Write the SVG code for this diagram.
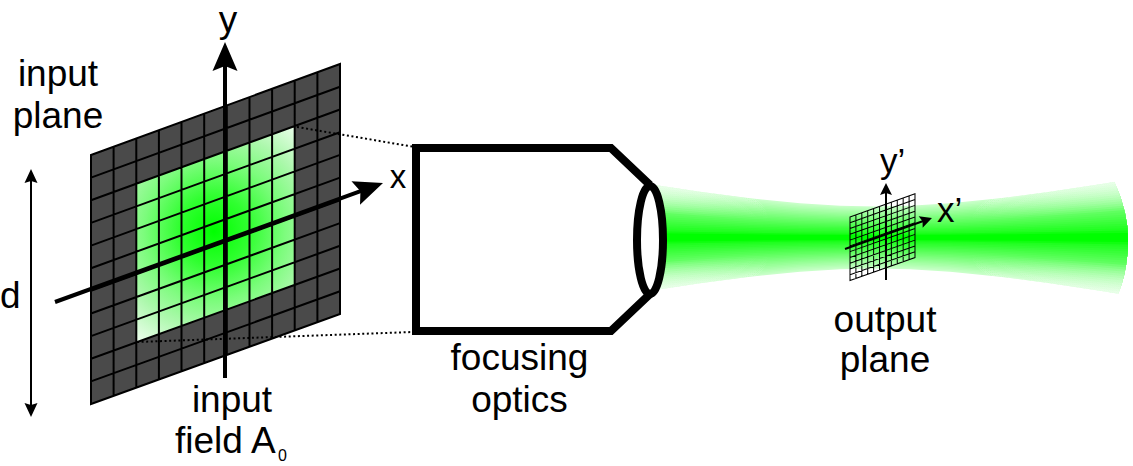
<svg xmlns="http://www.w3.org/2000/svg" xmlns:xlink="http://www.w3.org/1999/xlink" width="1133" height="466" viewBox="0 0 1133 466">
<style>
text{font-family:"Liberation Sans",Arial,sans-serif;font-size:37px;fill:#000;text-anchor:middle}
.start{text-anchor:start}
.axis{fill:none;stroke:#000;stroke-width:4}
.thin{fill:none;stroke:#000;stroke-width:2}
.dots{fill:none;stroke:#000;stroke-width:2;stroke-dasharray:2 2.6}
.opt{fill:none;stroke:#000;stroke-width:8;stroke-miterlimit:6}
</style>
<defs>
<radialGradient id="field" gradientUnits="userSpaceOnUse" cx="214" cy="231" r="140">
<stop offset="0" stop-color="#00ff00"/>
<stop offset=".25" stop-color="#30ff30"/>
<stop offset=".5" stop-color="#7cfc7c"/>
<stop offset=".7" stop-color="#acf8ac"/>
<stop offset="1" stop-color="#f8fff8"/>
</radialGradient>
<linearGradient id="fade" gradientUnits="userSpaceOnUse" x1="655" y1="0" x2="1130" y2="0">
<stop offset="0" stop-color="#fff" stop-opacity=".07"/>
<stop offset=".25" stop-color="#fff" stop-opacity="0"/>
<stop offset=".65" stop-color="#fff" stop-opacity="0"/>
<stop offset="1" stop-color="#fff" stop-opacity=".07"/>
</linearGradient>
<marker id="headBig" markerUnits="userSpaceOnUse" viewBox="-20 -14 32 28" refX="0" refY="0" markerWidth="32" markerHeight="28" orient="auto"><path d="M10 0L-19 12.5L-14 0L-19-12.5Z"/></marker>
<marker id="headMid" markerUnits="userSpaceOnUse" viewBox="-11 -8 16 16" refX="0" refY="0" markerWidth="16" markerHeight="16" orient="auto-start-reverse"><path d="M4 0L-10 6.5L-8 0L-10-6.5Z"/></marker>
<marker id="headSmall" markerUnits="userSpaceOnUse" viewBox="-9 -7 14 14" refX="0" refY="0" markerWidth="14" markerHeight="14" orient="auto"><path d="M4 0L-8 6L-6 0L-8-6Z"/></marker>
<path id="grid" fill="none" stroke="#000" d="M91 155L340 64V314L91 404Z
M113.6 146.7V395.8M136.3 138.5V387.6M158.9 130.2V379.5M181.5 121.9V371.3M204.2 113.6V363.1M226.8 105.4V354.9M249.5 97.1V346.7M272.1 88.8V338.6M294.7 80.6V330.4M317.4 72.3V322.2
M91 177.6L340 86.7M91 200.3L340 109.5M91 222.9L340 132.2M91 245.6L340 154.9M91 268.2L340 177.6M91 290.8L340 200.4M91 313.5L340 223.1M91 336.1L340 245.8M91 358.8L340 268.5M91 381.4L340 291.3"/>
<path id="b" d="M645-54L655-52.4L700-45.7L750-39.2L800-34.2L840-31.7L875-31L910-31.7L950-34.2L1000-39.2L1050-45.7L1100-53.2L1130-58V58L1100 53.2L1050 45.7L1000 39.2L950 34.2L910 31.7L875 31L840 31.7L800 34.2L750 39.2L700 45.7L655 52.4L645 54Z"/>
<clipPath id="beamEnd"><path d="M640 120H1100L1115 183Q1128 212 1128 240Q1128 270 1118 295L1100 360H640Z"/></clipPath>
</defs>
<rect width="1133" height="466" fill="#fff"/>

<g id="beam" clip-path="url(#beamEnd)">
<g transform="translate(0 237.5)">
<use href="#b" fill="#c8ffc8"/>
<use href="#b" fill="url(#fade)"/>
<use href="#b" fill="#c0ffc0" transform="scale(1 .96)"/>
<use href="#b" fill="url(#fade)"/>
<use href="#b" fill="#b8ffb8" transform="scale(1 .92)"/>
<use href="#b" fill="url(#fade)"/>
<use href="#b" fill="#b0ffb0" transform="scale(1 .88)"/>
<use href="#b" fill="url(#fade)"/>
<use href="#b" fill="#a8ffa8" transform="scale(1 .84)"/>
<use href="#b" fill="url(#fade)"/>
<use href="#b" fill="#a0ffa0" transform="scale(1 .8)"/>
<use href="#b" fill="url(#fade)"/>
<use href="#b" fill="#98ff98" transform="scale(1 .76)"/>
<use href="#b" fill="url(#fade)"/>
<use href="#b" fill="#90ff90" transform="scale(1 .72)"/>
<use href="#b" fill="url(#fade)"/>
<use href="#b" fill="#88ff88" transform="scale(1 .68)"/>
<use href="#b" fill="url(#fade)"/>
<use href="#b" fill="#80ff80" transform="scale(1 .64)"/>
<use href="#b" fill="url(#fade)"/>
<use href="#b" fill="#78ff78" transform="scale(1 .6)"/>
<use href="#b" fill="url(#fade)"/>
<use href="#b" fill="#70ff70" transform="scale(1 .56)"/>
<use href="#b" fill="url(#fade)"/>
<use href="#b" fill="#68ff68" transform="scale(1 .52)"/>
<use href="#b" fill="url(#fade)"/>
<use href="#b" fill="#60ff60" transform="scale(1 .48)"/>
<use href="#b" fill="#58ff58" transform="scale(1 .44)"/>
<use href="#b" fill="#50ff50" transform="scale(1 .4)"/>
<use href="#b" fill="#48ff48" transform="scale(1 .36)"/>
<use href="#b" fill="#40ff40" transform="scale(1 .32)"/>
<use href="#b" fill="#38ff38" transform="scale(1 .28)"/>
<use href="#b" fill="#30ff30" transform="scale(1 .24)"/>
<use href="#b" fill="#28ff28" transform="scale(1 .2)"/>
<use href="#b" fill="#20ff20" transform="scale(1 .16)"/>
<use href="#b" fill="#10ff10" transform="scale(1 .12)"/>
<use href="#b" fill="#00ff00" transform="scale(1 .08)"/>
</g>
</g>

<g id="input-plane">
<polygon points="91,155 340,64 340,314 91,404" fill="#4a4a4a"/>
<polygon points="136.3,183.8 294.7,126 294.7,285 136.3,342.4" fill="url(#field)"/>
<use href="#grid" stroke-width="2"/>
<text x="58" y="86">input</text>
<text x="58" y="127.5">plane</text>
</g>

<g id="focusing-optics">
<path class="opt" d="M650 185L611 148H416V331H611L650 294"/>
<ellipse class="opt" cx="650" cy="240" rx="13" ry="54" style="fill:#fff"/>
<text x="519.5" y="370">focusing</text>
<text x="519.5" y="412">optics</text>
</g>

<g id="output-plane">
<use href="#grid" stroke-width="3.9" transform="translate(850 217) scale(.261 .255) translate(-91 -155)"/>
<text x="885" y="332">output</text>
<text x="885" y="372">plane</text>
</g>

<g id="connectors">
<path class="dots" d="M297 127L412 146.5"/>
<path class="dots" d="M137 342L412 332"/>
<path class="axis" d="M225 378V52" marker-end="url(#headBig)"/>
<path class="axis" d="M55 302L373.6 186.4" marker-end="url(#headBig)"/>
<path class="thin" d="M31 173V413" marker-start="url(#headMid)" marker-end="url(#headMid)"/>
<path class="thin" d="M886 280V187" marker-end="url(#headSmall)"/>
<path class="thin" d="M845 249L928.2 219.3" marker-end="url(#headSmall)"/>
</g>

<g id="labels">
<text x="228" y="32">y</text>
<text x="398" y="188" style="font-size:33px">x</text>
<text class="start" x="0" y="308">d</text>
<text x="232" y="412">input</text>
<text class="start" x="175" y="453">field A</text>
<text class="start" x="278" y="461" style="font-size:16px">0</text>
<text class="start" x="880" y="173" style="font-size:35px">y’</text>
<text class="start" x="937" y="222" style="font-size:35px">x’</text>
</g>
</svg>
